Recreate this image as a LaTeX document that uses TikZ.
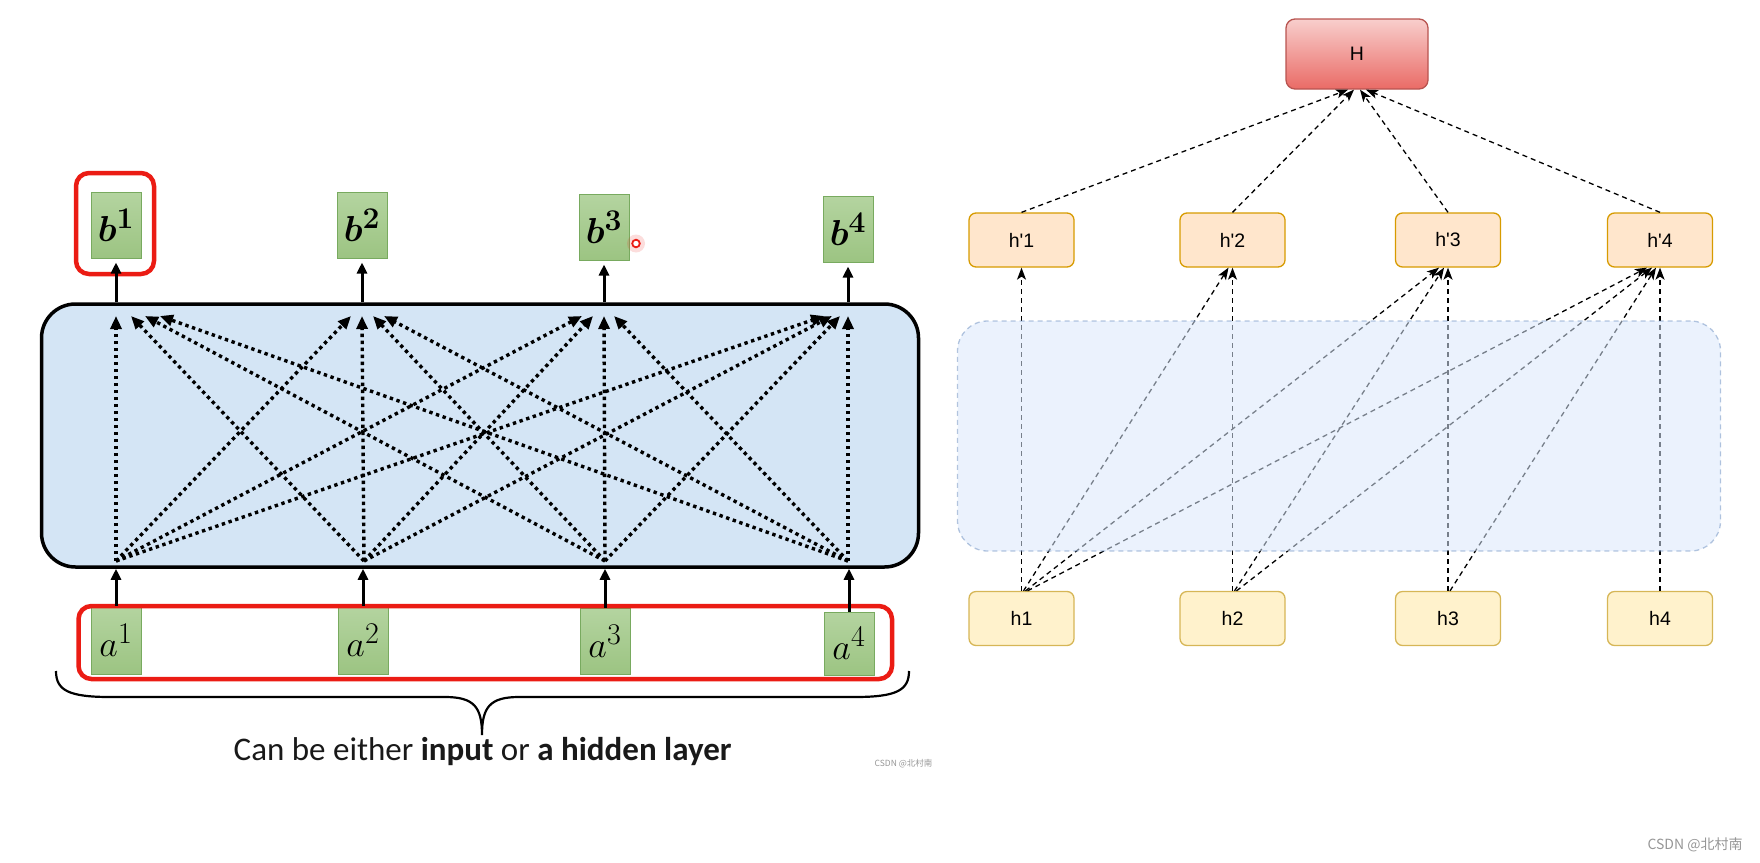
\documentclass[tikz,border=0pt]{standalone}
\usepackage{graphicx}
\usepackage{bm}
\usepackage{fontspec}
\setmainfont{Carlito}
\newfontfamily\drawiofont{Liberation Sans}
\newfontfamily\cjkfont{Noto Sans CJK SC}
\usetikzlibrary{arrows.meta}
\newcommand{\boxmath}[1]{\scalebox{1.45}{$#1$}}

\begin{document}
\begin{tikzpicture}[x=1pt,y=-1pt,
    vecbox/.style={draw=r120g170b95, line width=1pt, top color=r180g212b160, bottom color=r156g196b130,
      minimum width=50pt, minimum height=66pt, inner sep=0pt, font=\fontsize{24.88}{28}\selectfont},
    redframe/.style={draw=r235g28b20, line width=4.5pt, rounded corners=13pt},
    solidarrow/.style={line width=3pt, -{Triangle[length=11pt,width=10pt]}},
    dotarrow/.style={line width=3.4pt, dash pattern=on 3.4pt off 3.6pt, -{Triangle[length=13pt,width=11pt]}},
    hbox/.style={draw, rounded corners=7pt, line width=1.3pt, minimum width=105pt, minimum height=54pt,
      inner sep=0pt, font=\drawiofont\fontsize{19.5}{22}\selectfont},
    dasharrow/.style={line width=1.3pt, dash pattern=on 5pt off 4pt, -{Stealth[length=12pt,width=9pt,inset=3pt]}}]
    \useasboundingbox (0,0) rectangle (1760,862);

    % Changing colors
    \definecolor{r120g170b95}{RGB}{120,170,95}%
    \definecolor{r180g212b160}{RGB}{180,212,160}%
    \definecolor{r156g196b130}{RGB}{156,196,130}%
    \definecolor{r235g28b20}{RGB}{235,28,20}%
    \definecolor{r212g229b245}{RGB}{212,229,245}%
    \definecolor{r248g206b204}{RGB}{248,206,204}%
    \definecolor{r234g107b102}{RGB}{234,107,102}%
    \definecolor{r184g84b80}{RGB}{184,84,80}%
    \definecolor{r255g230b204}{RGB}{255,230,204}%
    \definecolor{r215g155b0}{RGB}{215,155,0}%
    \definecolor{r255g242b204}{RGB}{255,242,204}%
    \definecolor{r214g182b86}{RGB}{214,182,86}%
    \definecolor{r218g232b252}{RGB}{218,232,252}%
    \definecolor{r108g142b191}{RGB}{108,142,191}%
    \definecolor{r150g150b150}{RGB}{150,150,150}%

    % Drawing layer box
    \node [draw, line width=3.5pt, fill=r212g229b245, rounded corners=34pt,
      minimum width=877pt, minimum height=263pt] (layer) at (480,435.5) {};

    % Marking points b
    \node [vecbox] (b1) at (116,225) {\boxmath{\bm{b}^{\bm{1}}}};
    \node [vecbox] (b2) at (362,225) {\boxmath{\bm{b}^{\bm{2}}}};
    \node [vecbox] (b3) at (604,227) {\boxmath{\bm{b}^{\bm{3}}}};
    \node [vecbox] (b4) at (848,229) {\boxmath{\bm{b}^{\bm{4}}}};

    % Marking points a
    \node [vecbox, minimum height=68pt] (a1) at (116,640) {\boxmath{a^1}};
    \node [vecbox, minimum height=68pt] (a2) at (363,640) {\boxmath{a^2}};
    \node [vecbox, minimum height=66pt] (a3) at (605,641) {\boxmath{a^3}};
    \node [vecbox, minimum height=63pt] (a4) at (849,643.5) {\boxmath{a^4}};

    % Drawing red frames
    \draw [redframe] (76,173) rectangle (154,274);
    \draw [redframe] (78.5,606) rectangle (892,679);

    % Drawing lines layer b
    \draw [solidarrow, shorten >=4pt] (layer.north -| b1) -- (b1.south);
    \draw [solidarrow, shorten >=4pt] (layer.north -| b2) -- (b2.south);
    \draw [solidarrow, shorten >=4pt] (layer.north -| b3) -- (b3.south);
    \draw [solidarrow, shorten >=4pt] (layer.north -| b4) -- (b4.south);

    % Drawing lines a layer
    \draw [solidarrow] (a1.north) -- (layer.south -| a1);
    \draw [solidarrow] (a2.north) -- (layer.south -| a2);
    \draw [solidarrow] (a3.north) -- (layer.south -| a3);
    \draw [solidarrow] (a4.north) -- (layer.south -| a4);

    % Marking points inside layer
    \coordinate (s1) at (116,561);
    \coordinate (s2) at (364,561);
    \coordinate (s3) at (605,561);
    \coordinate (s4) at (848,561);
    \coordinate (t1) at (116,316);
    \coordinate (t2) at (362,316);
    \coordinate (t3) at (604,316);
    \coordinate (t4) at (848,316);

    % Drawing dotted lines to b1
    \draw [dotarrow] (s1) -- (t1);
    \draw [dotarrow] (s2) -- ([xshift=15pt]t1);
    \draw [dotarrow] (s3) -- ([xshift=29pt]t1);
    \draw [dotarrow] (s4) -- ([xshift=44pt]t1);

    % Drawing dotted lines to b2
    \draw [dotarrow] (s1) -- ([xshift=-11pt]t2);
    \draw [dotarrow] (s2) -- (t2);
    \draw [dotarrow] (s3) -- ([xshift=11pt]t2);
    \draw [dotarrow] (s4) -- ([xshift=22pt]t2);

    % Drawing dotted lines to b3
    \draw [dotarrow] (s1) -- ([xshift=-22pt]t3);
    \draw [dotarrow] (s2) -- ([xshift=-11pt]t3);
    \draw [dotarrow] (s3) -- (t3);
    \draw [dotarrow] (s4) -- ([xshift=10pt]t3);

    % Drawing dotted lines to b4
    \draw [dotarrow] (s1) -- ([xshift=-24pt]t4);
    \draw [dotarrow] (s2) -- ([xshift=-16pt]t4);
    \draw [dotarrow] (s3) -- ([xshift=-8pt]t4);
    \draw [dotarrow] (s4) -- (t4);

    % Drawing brace
    \draw [line width=2.2pt] (56,671) .. controls (56,690) and (68,697) .. (110,697) -- (445,697)
      .. controls (474,697) and (482,707) .. (482,735) .. controls (482,707) and (490,697) .. (519,697)
      -- (855,697) .. controls (897,697) and (909,690) .. (909,671);

    % Marking point caption
    \node [font=\fontsize{33}{38}\selectfont, text=black!90] (caption) at (482.6,752)
      {Can be either \textbf{input} or \textbf{a hidden layer}};

    % Marking point cursor
    \fill [r235g28b20, opacity=0.15] (636,243.5) circle (9pt);
    \draw [r235g28b20, line width=1.8pt, fill=white] (636,243.5) circle (3.8pt);

    % Marking points watermark
    \node [font=\cjkfont\fontsize{8.5}{10}\selectfont, text=r150g150b150] (mark1) at (903.5,764) {CSDN @北村南};
    \node [font=\cjkfont\fontsize{14}{16}\selectfont, text=r150g150b150] (mark2) at (1695,845) {CSDN @北村南};

    % Drawing H
    \node [hbox, draw=r184g84b80, top color=r248g206b204, bottom color=r234g107b102,
      minimum width=142pt, minimum height=70pt, rounded corners=9pt] (H) at (1357,54) {H};

    % Drawing h' and h
    \node [hbox, draw=r215g155b0, fill=r255g230b204] (hp1) at (1021.5,240) {h'1};
    \node [hbox, draw=r215g155b0, fill=r255g230b204] (hp2) at (1232.5,240) {h'2};
    \node [hbox, draw=r215g155b0, fill=r255g230b204] (hp3) at (1448,240) {h'3};
    \node [hbox, draw=r215g155b0, fill=r255g230b204] (hp4) at (1660,240) {h'4};
    \node [hbox, draw=r214g182b86, fill=r255g242b204] (h1) at (1021.5,618.5) {h1};
    \node [hbox, draw=r214g182b86, fill=r255g242b204] (h2) at (1232.5,618.5) {h2};
    \node [hbox, draw=r214g182b86, fill=r255g242b204] (h3) at (1448,618.5) {h3};
    \node [hbox, draw=r214g182b86, fill=r255g242b204] (h4) at (1660,618.5) {h4};

    % Drawing lines h' H
    \draw [dasharrow] (hp1.north) -- ([xshift=-9pt]H.south);
    \draw [dasharrow] (hp2.north) -- ([xshift=-3pt]H.south);
    \draw [dasharrow] (hp3.north) -- ([xshift=3pt]H.south);
    \draw [dasharrow] (hp4.north) -- ([xshift=9pt]H.south);

    % Drawing lines h h'
    \draw [dasharrow] (h1.north) -- (hp1.south);
    \draw [dasharrow] ([xshift=2pt]h1.north) -- ([xshift=-4pt]hp2.south);
    \draw [dasharrow] ([xshift=4pt]h1.north) -- ([xshift=-9pt]hp3.south);
    \draw [dasharrow] ([xshift=6pt]h1.north) -- ([xshift=-13pt]hp4.south);
    \draw [dasharrow] (h2.north) -- (hp2.south);
    \draw [dasharrow] ([xshift=2pt]h2.north) -- ([xshift=-4pt]hp3.south);
    \draw [dasharrow] ([xshift=4pt]h2.north) -- ([xshift=-8pt]hp4.south);
    \draw [dasharrow] (h3.north) -- (hp3.south);
    \draw [dasharrow] ([xshift=2pt]h3.north) -- ([xshift=-4pt]hp4.south);
    \draw [dasharrow] (h4.north) -- (hp4.south);

    % Drawing region
    \node [draw=r108g142b191, draw opacity=0.5, fill=r218g232b252, fill opacity=0.55, line width=1.3pt,
      dash pattern=on 5pt off 4pt, rounded corners=30pt, minimum width=763pt, minimum height=230pt]
      (region) at (1339,436) {};
\end{tikzpicture}
\end{document}
